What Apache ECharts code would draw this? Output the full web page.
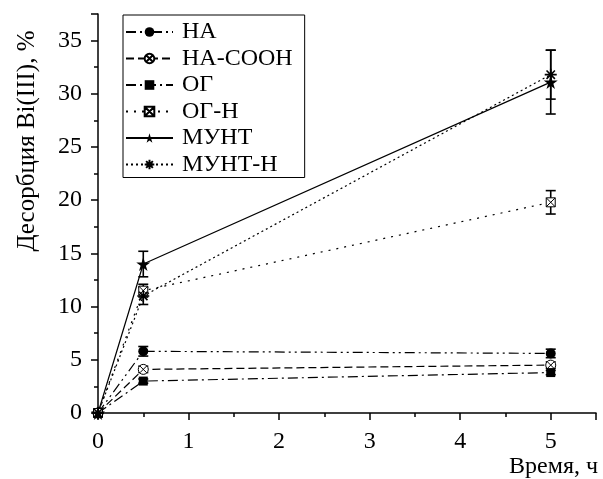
<!DOCTYPE html>
<html>
<head>
<meta charset="utf-8">
<script src="https://cdn.jsdelivr.net/npm/echarts@6/dist/echarts.min.js"></script>
<style>
  html, body { margin: 0; padding: 0; background: #fff; }
  #chart { width: 603px; height: 479px; }
</style>
</head>
<body>
<div id="chart"></div>
<script>
// time points, h
const times = [0, 0.5, 5];
// series names
const names = ['НА', 'НА-СООН', 'ОГ', 'ОГ-Н', 'МУНТ', 'МУНТ-Н'];
// desorption values, %
const valNA = [0, 5.8, 5.6];
const valNACOOH = [0, 4.1, 4.5];
const valOG = [0, 3.0, 3.8];
const valOGH = [0, 11.5, 19.8];
const valMUNT = [0, 14.0, 31.1];
const valMUNTH = [0, 11.0, 31.8];
// error bar half-widths
const errNA = [0, 0.45, 0.4];
const errNACOOH = [0, 0.3, 0.3];
const errOG = [0, 0.2, 0.2];
const errOGH = [0, 0.6, 1.1];
const errMUNT = [0, 1.2, 3.0];
const errMUNTH = [0, 0.8, 2.3];

const FONT = '"Liberation Serif", "DejaVu Serif", serif';

const styles = [
  { vals: valNA, errs: errNA, dash: [10, 4, 2, 4, 2, 4], symbol: 'circle', size: 10, fill: '#000', bw: 0 },
  { vals: valNACOOH, errs: errNACOOH, dash: [8, 4],
    symbol: 'path://M5,0 A5,5 0 1,1 4.99,0 Z M1.6,1.6 L8.4,8.4 M8.4,1.6 L1.6,8.4', size: 10, fill: '#fff', bw: 1 },
  { vals: valOG, errs: errOG, dash: [10, 4, 2, 4], symbol: 'rect', size: 9, fill: '#000', bw: 0 },
  { vals: valOGH, errs: errOGH, dash: [2, 6],
    symbol: 'path://M0,0 L10,0 L10,10 L0,10 Z M0,0 L10,10 M10,0 L0,10', size: 9, fill: '#fff', bw: 1 },
  { vals: valMUNT, errs: errMUNT, dash: 'solid',
    symbol: 'path://M50,0 L61,35 L98,35 L68,57 L79,91 L50,70 L21,91 L32,57 L2,35 L39,35 Z', size: 14, fill: '#000', bw: 0 },
  { vals: valMUNTH, errs: errMUNTH, dash: [2, 3],
    symbol: 'path://M5,0 L5,10 M0,5 L10,5 M1.5,1.5 L8.5,8.5 M8.5,1.5 L1.5,8.5', size: 12, fill: '#000', bw: 1.6 }
];

const series = [];
styles.forEach(function (s, i) {
  series.push({
    name: names[i],
    type: 'line',
    data: times.map(function (t, k) { return [t, s.vals[k]]; }),
    symbol: s.symbol,
    symbolSize: s.size,
    showSymbol: true,
    clip: false,
    lineStyle: { color: '#000', width: 1.2, type: s.dash },
    itemStyle: { color: s.fill, borderColor: '#000', borderWidth: s.bw },
    emphasis: { disabled: true },
    z: 3
  });
  // error bars
  series.push({
    type: 'custom',
    data: times.map(function (t, k) { return [t, s.vals[k], s.errs[k]]; }).filter(function (d) { return d[2] > 0; }),
    renderItem: function (params, api) {
      const x = api.value(0), y = api.value(1), e = api.value(2);
      const top = api.coord([x, y + e]);
      const bot = api.coord([x, y - e]);
      const st = { stroke: '#000', lineWidth: 1.6 };
      return {
        type: 'group',
        children: [
          { type: 'line', shape: { x1: top[0], y1: top[1], x2: bot[0], y2: bot[1] }, style: st },
          { type: 'line', shape: { x1: top[0] - 5, y1: top[1], x2: top[0] + 5, y2: top[1] }, style: st },
          { type: 'line', shape: { x1: bot[0] - 5, y1: bot[1], x2: bot[0] + 5, y2: bot[1] }, style: st }
        ]
      };
    },
    z: 2
  });
});

const chart = echarts.init(document.getElementById('chart'), null, { renderer: 'canvas' });
chart.setOption({
  animation: false,
  backgroundColor: '#fff',
  grid: { left: 98, right: 7, top: 14, bottom: 66 },
  legend: {
    data: names,
    orient: 'vertical',
    left: 123,
    top: 15,
    itemWidth: 47,
    itemHeight: 12,
    itemGap: 2.5,
    padding: [5, 12, 1, 2],
    borderColor: '#000',
    borderWidth: 1,
    selectedMode: false,
    textStyle: { fontFamily: FONT, fontSize: 24, color: '#000', padding: [0, 0, 0, 4] }
  },
  xAxis: {
    type: 'value',
    min: 0,
    max: 5.5,
    interval: 1,
    axisLine: { onZero: false, lineStyle: { color: '#000', width: 1.5 } },
    axisTick: { length: 7, lineStyle: { color: '#000', width: 1.5 } },
    minorTick: { show: true, splitNumber: 2, length: 4, lineStyle: { color: '#000', width: 1.5 } },
    splitLine: { show: false },
    axisLabel: { showMaxLabel: false, fontFamily: FONT, fontSize: 24, color: '#000', margin: 17 }
  },
  yAxis: {
    type: 'value',
    min: 0,
    max: 37.5,
    interval: 5,
    axisLine: { show: true, onZero: false, lineStyle: { color: '#000', width: 1.5 } },
    axisTick: { show: true, length: 7, lineStyle: { color: '#000', width: 1.5 } },
    minorTick: { show: true, splitNumber: 2, length: 4, lineStyle: { color: '#000', width: 1.5 } },
    splitLine: { show: false },
    axisLabel: { showMaxLabel: false, fontFamily: FONT, fontSize: 24, color: '#000', margin: 16 }
  },
  graphic: [
    {
      type: 'text',
      x: 27,
      y: 141,
      rotation: Math.PI / 2,
      style: {
        text: 'Десорбция Bi(III), %',
        font: '25px ' + FONT,
        fill: '#000',
        align: 'center',
        verticalAlign: 'middle'
      }
    },
    {
      type: 'text',
      right: 5,
      top: 455,
      style: { text: 'Время, ч', font: '24px ' + FONT, fill: '#000' }
    }
  ],
  series: series
});
</script>
</body>
</html>
